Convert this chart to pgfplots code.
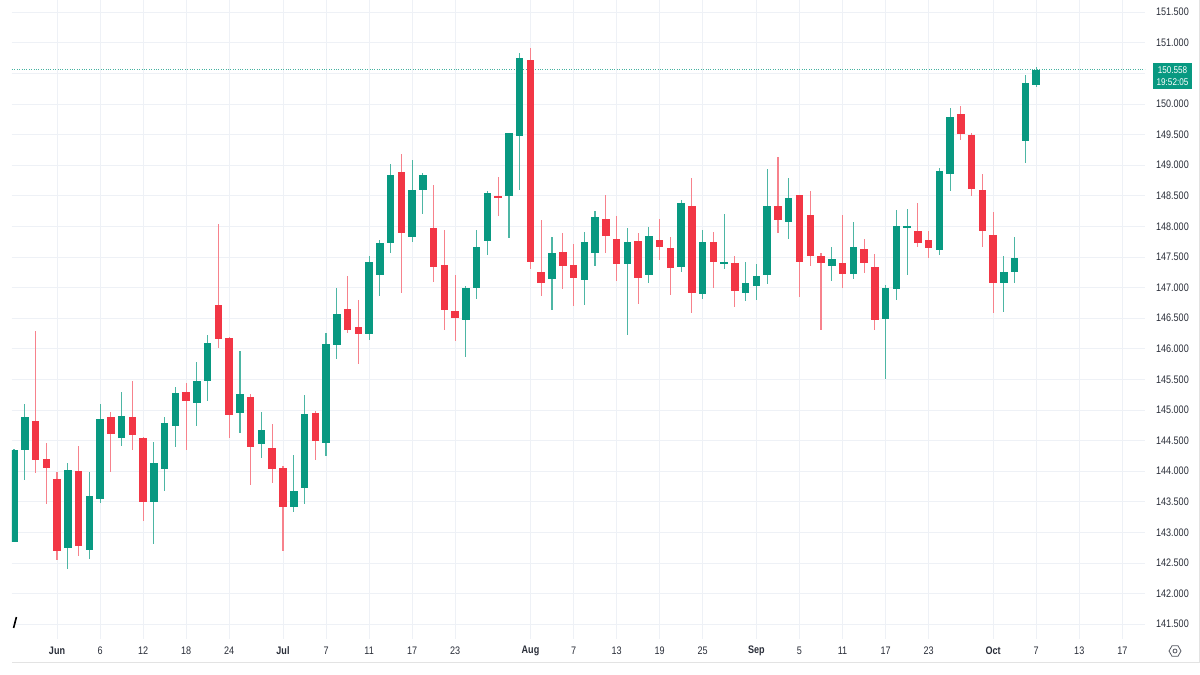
\documentclass[border=0pt]{standalone}
\usepackage{fontspec}
\setmainfont{Liberation Sans}[FakeStretch=0.83]
\usepackage{pgfplots}
\pgfplotsset{compat=1.18}
\usepackage{pgfplotstable}
\usetikzlibrary{shapes.geometric}
\definecolor{tvgreen}{HTML}{089981}
\definecolor{tvred}{HTML}{F23645}
\definecolor{gridc}{HTML}{EEF1F6}
\definecolor{txt}{HTML}{2A2E39}

\pgfplotstableread{
x o h l c
1 142.85 144.36 142.84 144.35
2 144.34 145.09 143.86 144.88
6 142.74 144.13 142.40 144.02
8 142.72 143.99 142.56 143.59
9 143.54 145.10 143.48 144.86
11 144.55 145.30 144.41 144.90
14 143.50 144.48 142.81 144.13
15 144.03 144.89 143.67 144.79
16 144.74 145.38 144.40 145.28
18 145.11 145.79 144.74 145.48
19 145.48 146.23 145.14 146.09
22 144.95 145.96 144.63 145.26
24 144.44 144.96 144.21 144.67
27 143.41 144.26 143.34 143.68
28 143.72 145.25 143.46 144.93
30 144.46 146.26 144.24 146.08
31 146.06 146.99 145.84 146.57
34 146.25 147.52 146.15 147.42
35 147.21 147.78 146.86 147.73
36 147.73 149.02 147.56 148.84
38 147.82 149.09 147.75 148.60
39 148.60 148.88 148.20 148.84
43 146.47 147.02 145.87 146.99
44 146.99 147.94 146.82 147.66
45 147.76 148.57 147.53 148.55
47 148.50 149.53 147.81 149.52
48 149.47 150.83 148.60 150.76
51 147.14 147.83 146.63 147.56
54 147.12 147.91 146.72 147.75
55 147.57 148.26 147.35 148.15
58 147.39 147.97 146.23 147.75
60 147.20 147.99 147.08 147.85
63 147.34 148.43 147.26 148.39
65 146.89 147.95 146.81 147.75
67 147.39 148.20 147.30 147.41
69 146.91 147.41 146.78 147.07
70 147.02 147.38 146.80 147.19
71 147.21 148.94 147.06 148.34
73 148.07 148.79 147.79 148.47
77 147.36 147.66 147.11 147.47
79 147.22 148.07 147.14 147.67
82 146.48 147.05 145.50 147.00
83 146.97 148.27 146.79 148.01
84 147.97 148.28 147.21 148.00
87 147.61 148.95 147.53 148.91
88 148.86 149.93 148.57 149.79
93 147.07 147.52 146.61 147.26
94 147.26 147.82 147.08 147.49
95 149.40 150.47 149.04 150.34
96 150.31 150.61 150.27 150.558
}\greenc

\pgfplotstableread{
x o h l c
3 144.82 146.29 143.97 144.19
4 144.20 144.46 143.46 144.06
5 143.87 143.99 142.55 142.70
7 144.01 144.41 142.61 142.77
10 144.89 144.96 143.98 144.60
12 144.88 145.47 144.35 144.60
13 144.54 144.56 143.19 143.50
17 145.29 145.45 144.35 145.15
20 146.71 148.04 146.02 146.16
21 146.17 146.20 144.54 144.92
23 145.21 145.27 143.77 144.39
25 144.38 144.77 143.80 144.03
26 144.05 144.09 142.70 143.41
29 144.95 144.98 144.19 144.49
32 146.65 147.19 146.26 146.31
33 146.36 146.79 145.76 146.24
37 148.89 149.19 146.91 147.89
40 147.97 148.67 147.10 147.34
41 147.37 147.94 146.31 146.64
42 146.62 147.21 146.12 146.51
46 148.50 148.80 148.17 148.47
49 150.72 150.91 147.30 147.42
50 147.26 148.10 146.86 147.08
52 147.59 147.89 146.97 147.35
53 147.37 147.71 146.70 147.15
56 148.12 148.52 147.57 147.85
57 147.79 148.17 147.10 147.39
59 147.76 147.89 146.74 147.15
61 147.78 148.12 147.45 147.66
62 147.64 147.82 146.88 147.32
64 148.33 148.79 146.58 146.92
66 147.75 147.91 146.99 147.42
68 147.41 147.51 146.68 146.95
72 148.34 149.14 147.89 148.11
74 148.51 148.51 146.84 147.41
75 148.19 148.58 147.35 147.52
76 147.51 147.57 146.31 147.40
78 147.40 148.19 147.00 147.22
80 147.63 147.79 147.24 147.41
81 147.34 147.55 146.30 146.47
85 147.92 148.38 147.67 147.73
86 147.77 147.93 147.48 147.65
89 149.83 149.96 149.42 149.51
90 149.49 149.53 148.49 148.61
91 148.59 148.85 147.67 147.93
92 147.86 148.23 146.59 147.08
}\redc

\begin{document}
\begin{tikzpicture}[x=1pt,y=1pt]
\path[use as bounding box, fill=white] (0,0) rectangle (1200,675);
\begin{axis}[
  at={(12pt,36pt)}, anchor=south west,
  scale only axis, width=1133pt, height=639pt,
  xmin=0.814, xmax=106.11, ymin=141.258, ymax=151.699,
  axis line style={draw=none},
  major tick length=0pt, tick style={draw=none},
  grid=major, major grid style={color=gridc, line width=0.8pt},
  xtick={5,9,13,17,21,26,30,34,38,42,49,53,57,61,65,70,74,78,82,86,92,96,100,104},
  xticklabels={\textbf{Jun},6,12,18,24,\textbf{Jul},7,11,17,23,\textbf{Aug},7,13,19,25,\textbf{Sep},5,11,17,23,\textbf{Oct},7,13,17},
  ytick={141.5,142,142.5,143,143.5,144,144.5,145,145.5,146,146.5,147,147.5,148,148.5,149,149.5,150,151,151.5},
  extra y ticks={150.5}, extra y tick labels={},
  extra y tick style={grid=major, major grid style={color=gridc, line width=0.8pt}},
  yticklabel pos=right,
  every tick label/.append style={font=\fontsize{10.9}{12}\selectfont, text=txt},
  yticklabel style={anchor=east, inner sep=0pt, xshift=44pt,
    /pgf/number format/.cd, fixed, fixed zerofill, precision=3, 1000 sep={}, assume math mode=true},
  xticklabel style={anchor=center, inner sep=0pt, yshift=-12pt},
  candle/.style={only marks, mark=*, mark options={draw opacity=0, fill opacity=0}, forget plot,
    error bars/y dir=both, error bars/y explicit, error bars/error mark=none},
]
\addplot[color=tvgreen!75, dash pattern=on 0.8pt off 1.6pt, line width=0.7pt] coordinates {(0.814,150.558) (106.11,150.558)};
% wicks
\addplot[candle, error bars/error bar style={line width=1.1pt, color=tvgreen!72!white}]
  table[x=x, y expr={(\thisrow{h}+\thisrow{l})/2}, y error expr={(\thisrow{h}-\thisrow{l})/2}] {\greenc};
\addplot[candle, error bars/error bar style={line width=1.1pt, color=tvred!62!white}]
  table[x=x, y expr={(\thisrow{h}+\thisrow{l})/2}, y error expr={(\thisrow{h}-\thisrow{l})/2}] {\redc};
% bodies
\addplot[candle, error bars/error bar style={line width=7.5pt, color=tvgreen}]
  table[x=x, y expr={(\thisrow{o}+\thisrow{c})/2}, y error expr={max(abs(\thisrow{c}-\thisrow{o})/2,0.012)}] {\greenc};
\addplot[candle, error bars/error bar style={line width=7.5pt, color=tvred}]
  table[x=x, y expr={(\thisrow{o}+\thisrow{c})/2}, y error expr={max(abs(\thisrow{c}-\thisrow{o})/2,0.012)}] {\redc};
\end{axis}
% price label
\fill[tvgreen] (1153,586) rectangle (1192,611.5);
\node[text=white, inner sep=0pt, align=center, font=\fontsize{9.8}{12.4}\selectfont] at (1172.5,599) {150.558\\19:52:05};
% frame lines
\draw[color=gray!22, line width=0.8pt] (12,13) -- (1199.4,13) -- (1199.4,675);
% settings icon
\node[draw=txt!80, line width=0.8pt, regular polygon, regular polygon sides=6, minimum size=12pt, inner sep=0pt] at (1175,24) {};
\draw[color=txt!80, line width=0.8pt] (1175,24) circle (2pt);
% logo fragment
\draw[line width=1.6pt, color=black] (13.6,47) -- (16.4,58);
\end{tikzpicture}
\end{document}
